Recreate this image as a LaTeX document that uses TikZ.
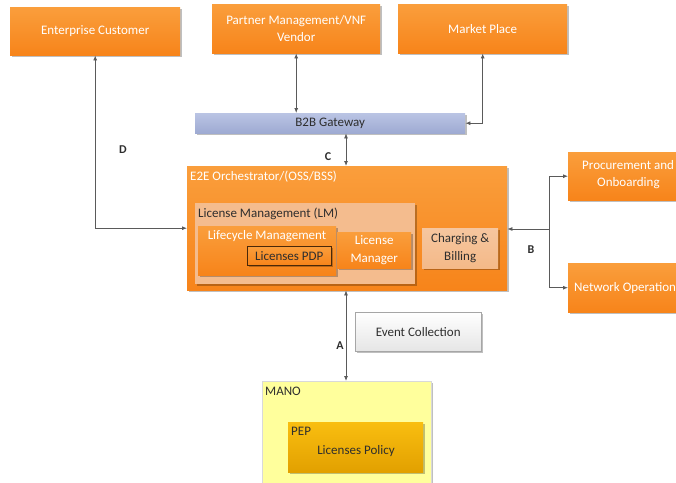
\documentclass[tikz,border=0pt]{standalone}
\usepackage{fontspec}
\setmainfont{Carlito}
\usetikzlibrary{arrows.meta,shadows}
\definecolor{orT}{HTML}{FA9E3C}
\definecolor{orB}{HTML}{F7841A}
\definecolor{peach}{HTML}{F4BC8E}
\definecolor{b2bT}{HTML}{BAC4E4}
\definecolor{b2bB}{HTML}{9EAAD2}
\definecolor{manoY}{HTML}{FFFF9C}
\definecolor{pepT}{HTML}{F9BE10}
\definecolor{pepB}{HTML}{E2A000}
\definecolor{linec}{HTML}{5A5A5A}
\definecolor{txtd}{HTML}{2E2E2E}
\tikzset{
  fs/.style={font=\fontsize{13}{17.5}\selectfont},
  shad/.style={drop shadow={shadow xshift=1.5pt,shadow yshift=-1.5pt,opacity=0.25,fill=black}},
  obox/.style={shad,top color=orT,bottom color=orB,draw=none,text=white,align=center,anchor=north west,inner sep=2pt,fs},
  lbl/.style={anchor=north west,inner sep=0pt,fs},
  dbl/.style={draw=linec,line width=0.8pt,{Latex[length=5pt,width=4pt]}-{Latex[length=5pt,width=4pt]}},
  arr/.style={draw=linec,line width=0.8pt,-{Latex[length=5pt,width=4pt]}},
  ltr/.style={font=\bfseries\fontsize{12}{14}\selectfont,text=txtd,inner sep=0pt}
}
\begin{document}
\begin{tikzpicture}[x=1pt,y=-1pt]
\useasboundingbox (0,0) rectangle (676,482);
% top row
\node[obox,minimum width=170pt,minimum height=48pt] (ent) at (10,7) {Enterprise Customer};
\node[obox,minimum width=168pt,minimum height=49pt] (part) at (212,4) {Partner Management/VNF\\Vendor};
\node[obox,minimum width=169pt,minimum height=49pt] (mkt) at (398,4) {Market Place};
% B2B
\node[shad,top color=b2bT,bottom color=b2bB,anchor=north west,minimum width=270pt,minimum height=20pt,inner sep=0pt,text=txtd,fs] (b2b) at (195,113) {B2B Gateway};
% orchestrator
\node[shad,top color=orT,bottom color=orB,anchor=north west,minimum width=320pt,minimum height=124pt] (orch) at (187,166) {};
\node[lbl,text=white] (orcht) at (190,171) {E2E Orchestrator/(OSS/BSS)};
\node[shad,fill=peach,anchor=north west,minimum width=220pt,minimum height=81pt] (lm) at (195,203) {};
\node[lbl,text=txtd] (lmt) at (198,208) {License Management (LM)};
\node[shad,top color=orT,bottom color=orB,anchor=north west,minimum width=138pt,minimum height=49pt] (life) at (198,226) {};
\node[lbl,text=white,anchor=north] (lifet) at (267,230) {Lifecycle Management};
\node[obox,draw=black!70!orB,line width=0.6pt,text=txtd,minimum width=84pt,minimum height=19pt,inner sep=0pt] (pdp) at (247,246) {Licenses PDP};
\node[obox,minimum width=74pt,minimum height=36pt,inner sep=0pt] (lmgr) at (337,232) {License\\Manager};
\node[obox,top color=peach!85!white,bottom color=peach!95!orB,text=txtd,minimum width=76pt,minimum height=40pt,inner sep=0pt] (chg) at (422,228) {Charging \&\\Billing};
% right side
\node[shad,top color=orT,bottom color=orB,anchor=north west,minimum width=130pt,minimum height=48pt] (proc) at (568,152) {};
\node[lbl,text=white,align=left] (proct) at (582,160) {Procurement and\\\hspace*{15pt}Onboarding};
\node[shad,top color=orT,bottom color=orB,anchor=north west,minimum width=130pt,minimum height=49pt] (net) at (568,263) {};
\node[lbl,text=white,anchor=west] (nett) at (574,288) {Network Operation};
% event collection
\node[shad,draw=black!35,top color=white,bottom color=black!10,anchor=north west,minimum width=126pt,minimum height=39pt,text=txtd,fs] (evt) at (355,312) {Event Collection};
% MANO
\node[shad,fill=manoY,draw=black!15,anchor=north west,minimum width=169pt,minimum height=110pt] (mano) at (262,381) {};
\node[lbl,text=txtd] (manot) at (265,387) {MANO};
\node[shad,top color=pepT,bottom color=pepB,anchor=north west,minimum width=135pt,minimum height=50pt] (pep) at (288,422) {};
\node[lbl,text=txtd] (pept) at (291,427) {PEP};
\node[lbl,text=txtd,anchor=center] (pol) at (356,451) {Licenses Policy};
% connectors
\coordinate (cx) at (346,0);
\coordinate (bj) at (549,229);
\draw[dbl] (ent.south) |- (orch.west);
\draw[dbl] (part.south) -- (part.south |- b2b.north);
\draw[dbl] (mkt.south) |- (b2b.east);
\draw[dbl] (cx |- b2b.south) -- (cx |- orch.north);
\draw[dbl] (cx |- orch.south) -- (cx |- mano.north);
\draw[arr] (bj) -- (orch.east |- bj);
\draw[arr] (bj) |- (proc.west);
\draw[arr] (bj) |- (net.west);
% letters
\node[ltr] (ld) at (123,150) {D};
\node[ltr] (lc) at (328,157) {C};
\node[ltr] (lb) at (531,250) {B};
\node[ltr] (la) at (340,346) {A};
\end{tikzpicture}
\end{document}
